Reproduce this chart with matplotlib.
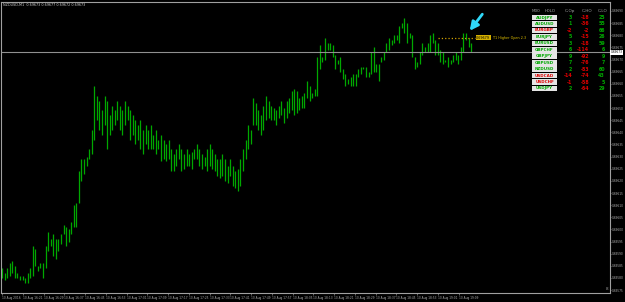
import matplotlib.pyplot as plt
from matplotlib.patches import Rectangle

W, H = 625, 302

# M1 bars, prices in points (1e-5)
highs = [69584, 69582, 69584, 69586, 69587, 69585, 69582, 69581, 69581, 69580,
         69582, 69584, 69593, 69592, 69585, 69586, 69586, 69593, 69599, 69596,
         69598, 69596, 69596, 69598, 69602, 69601, 69600, 69603, 69610, 69611,
         69624, 69629, 69629, 69630, 69633, 69641, 69659, 69655, 69653, 69649,
         69655, 69653, 69647, 69651, 69649, 69653, 69651, 69649, 69653, 69651,
         69649, 69647, 69645, 69643, 69645, 69641, 69643, 69641, 69643, 69639,
         69641, 69637, 69639, 69637, 69635, 69637, 69633, 69631, 69633, 69635,
         69633, 69631, 69633, 69631, 69632, 69633, 69635, 69633, 69631, 69630,
         69633, 69635, 69633, 69631, 69629, 69629, 69631, 69629, 69626, 69629,
         69626, 69624, 69625, 69629, 69633, 69637, 69643, 69641, 69654, 69652,
         69649, 69647, 69651, 69655, 69653, 69651, 69650, 69649, 69651, 69653,
         69650, 69653, 69654, 69657, 69658, 69657, 69654, 69655, 69656, 69661,
         69659, 69656, 69658, 69671, 69676, 69671, 69679, 69677, 69677, 69676,
         69672, 69670, 69671, 69666, 69664, 69662, 69663, 69664, 69664, 69666,
         69667, 69667, 69667, 69665, 69673, 69675, 69668, 69668, 69671, 69673,
         69677, 69679, 69678, 69680, 69680, 69684, 69685, 69687, 69685, 69681,
         69680, 69671, 69669, 69673, 69677, 69675, 69677, 69680, 69681, 69678,
         69677, 69674, 69673, 69670, 69671, 69670, 69672, 69673, 69672, 69675,
         69681, 69681, 69679, 69677]
lows = [69580, 69579, 69580, 69581, 69582, 69580, 69580, 69579, 69579, 69578,
        69578, 69580, 69581, 69585, 69583, 69584, 69580, 69584, 69591, 69593,
        69589, 69588, 69591, 69594, 69598, 69593, 69595, 69598, 69601, 69601,
        69611, 69620, 69623, 69626, 69629, 69631, 69637, 69645, 69641, 69639,
        69643, 69633, 69639, 69641, 69643, 69645, 69641, 69639, 69643, 69645,
        69637, 69639, 69635, 69637, 69633, 69631, 69635, 69633, 69633, 69633,
        69631, 69633, 69628, 69629, 69628, 69629, 69624, 69624, 69626, 69629,
        69624, 69625, 69626, 69626, 69625, 69629, 69629, 69626, 69625, 69626,
        69624, 69626, 69625, 69624, 69622, 69621, 69622, 69620, 69619, 69622,
        69618, 69617, 69616, 69618, 69624, 69629, 69633, 69635, 69643, 69643,
        69641, 69639, 69641, 69645, 69646, 69645, 69645, 69643, 69646, 69647,
        69644, 69646, 69648, 69649, 69647, 69648, 69649, 69650, 69650, 69654,
        69653, 69654, 69655, 69655, 69666, 69669, 69670, 69674, 69674, 69671,
        69666, 69668, 69665, 69662, 69659, 69660, 69659, 69659, 69659, 69663,
        69664, 69666, 69663, 69663, 69664, 69665, 69665, 69661, 69669, 69670,
        69673, 69674, 69676, 69677, 69678, 69677, 69683, 69681, 69677, 69679,
        69671, 69666, 69667, 69668, 69672, 69673, 69673, 69673, 69677, 69672,
        69672, 69669, 69668, 69669, 69667, 69668, 69669, 69670, 69668, 69670,
        69673, 69678, 69675, 69673]

price_labels = ["0.69690", "0.69685", "0.69680", "0.69675", "0.69670", "0.69665",
                "0.69660", "0.69655", "0.69650", "0.69645", "0.69640", "0.69635",
                "0.69630", "0.69625", "0.69620", "0.69615", "0.69610", "0.69605",
                "0.69600", "0.69595", "0.69590", "0.69585", "0.69580", "0.69575"]
time_labels = ["10 Aug 2016", "10 Aug 16:21", "10 Aug 16:29", "10 Aug 16:37",
               "10 Aug 16:45", "10 Aug 16:53", "10 Aug 17:01", "10 Aug 17:09",
               "10 Aug 17:17", "10 Aug 17:25", "10 Aug 17:33", "10 Aug 17:41",
               "10 Aug 17:49", "10 Aug 17:57", "10 Aug 18:05", "10 Aug 18:13",
               "10 Aug 18:21", "10 Aug 18:29", "10 Aug 18:37", "10 Aug 18:45",
               "10 Aug 18:53", "10 Aug 19:01", "10 Aug 19:09"]

bid = 0.69673
target = 0.69679

symbols = ["AUDJPY", "AUDUSD", "EURGBP", "EURJPY", "EURUSD", "GBPCHF",
           "GBPJPY", "GBPUSD", "NZDUSD", "USDCAD", "USDCHF", "USDJPY"]
symbol_up = [True, True, False, True, True, True, True, True, True, False, False, True]
c_op = [3, 1, -2, 5, 3, 6, 9, 7, 2, -14, -1, 2]
c_ho = [-18, -36, -2, -15, -18, -114, -92, -76, -83, -74, -58, -64]
c_lo = [25, 55, 66, 26, 59, 6, 9, 7, 60, 43, 5, 29]

GREEN = '#00a800'
RED = '#e00000'
GREY = '#b0b0b0'

fig = plt.figure(figsize=(W / 100, H / 100), dpi=100, facecolor='black')
ax = fig.add_axes([1 / W, 9 / H, 609 / W, 291 / H], facecolor='black')

x = list(range(len(highs)))
ax.vlines(x, [v / 1e5 for v in lows], [v / 1e5 for v in highs], color=GREEN, lw=0.9)

ax.set_xlim(-0.4, 237.2)
ax.set_ylim(0.695738, 0.696937)

ax.axhline(bid, color='#909090', lw=0.8)

# price scale on the right
ax.yaxis.tick_right()
ax.set_yticks([float(p) for p in price_labels])
ax.set_yticklabels(price_labels)
ax.tick_params(axis='y', colors=GREY, labelsize=2.1, length=1.0, width=0.4, pad=0.5)
ax.set_xticks([8.1 * k for k in range(len(time_labels))])
ax.set_xticklabels(time_labels, ha='left')
ax.tick_params(axis='x', colors=GREY, labelsize=2.1, length=1.5, width=0.4, pad=0.8)
for s in ax.spines.values():
    s.set_color('#a0a0a0')
    s.set_linewidth(0.8)

ax.text(1.0015, bid, f"{bid:.5f}", transform=ax.get_yaxis_transform(), fontsize=2.1,
        color='black', va='center', ha='left',
        bbox=dict(boxstyle='square,pad=0.15', fc='white', ec='none'))

# target line and label
ax.hlines(target, 170, 184.5, colors='#d0a000', linestyles=':', lw=0.9)
ax.text(185, target, f"{target:.5f}", fontsize=2.4, color='black', va='center', ha='left',
        bbox=dict(boxstyle='square,pad=0.2', fc='#d4b000', ec='none'))
ax.text(191.5, target, "T1 Higher Open 2.3", fontsize=2.4, color='#e0c000',
        va='center', ha='left')


def ftext(px, py, s, **kw):
    fig.text(px / W, 1 - py / H, s, **kw)


ftext(3, 5, "NZDUSD,M1  0.69673 0.69677 0.69672 0.69673", fontsize=2.4,
      color='#d0d0d0', va='center')

# arrow
ax.annotate('', xy=(468 / W, 1 - 33 / H), xycoords='figure fraction',
            xytext=(484 / W, 1 - 12 / H), textcoords='figure fraction',
            arrowprops=dict(arrowstyle='-|>,head_width=0.25,head_length=0.5',
                            color='#30d8f8', lw=2))

# table
for label, px, ha in [("M30", 532, 'left'), ("H0LO", 545, 'left'),
                      ("C-Op", 575, 'right'), ("C-HO", 592, 'right'), ("C-LO", 607, 'right')]:
    ftext(px, 11, label, fontsize=3.0, color='#a0a0a0', va='center', ha=ha)

for i, sym in enumerate(symbols):
    py = 17.5 + 6.45 * i
    fig.patches.append(Rectangle((532 / W, 1 - (py + 2.9) / H), 25 / W, 5.6 / H,
                                 transform=fig.transFigure, fc='#e4e4e4', ec='none'))
    ftext(544.5, py, sym, fontsize=3.0, color=GREEN if symbol_up[i] else RED,
          va='center', ha='center', fontweight='bold')
    ftext(572, py, str(c_op[i]), fontsize=3.4, color=GREEN if c_op[i] > 0 else RED,
          va='center', ha='right', fontweight='bold')
    ftext(589, py, str(c_ho[i]), fontsize=3.4, color=RED, va='center', ha='right',
          fontweight='bold')
    ftext(605, py, str(c_lo[i]), fontsize=3.4, color=GREEN, va='center', ha='right',
          fontweight='bold')

ftext(607, 289, "8", fontsize=3, color='#a0a0a0', va='center', ha='center')

fig.savefig('out.png', dpi=100, facecolor='black')
